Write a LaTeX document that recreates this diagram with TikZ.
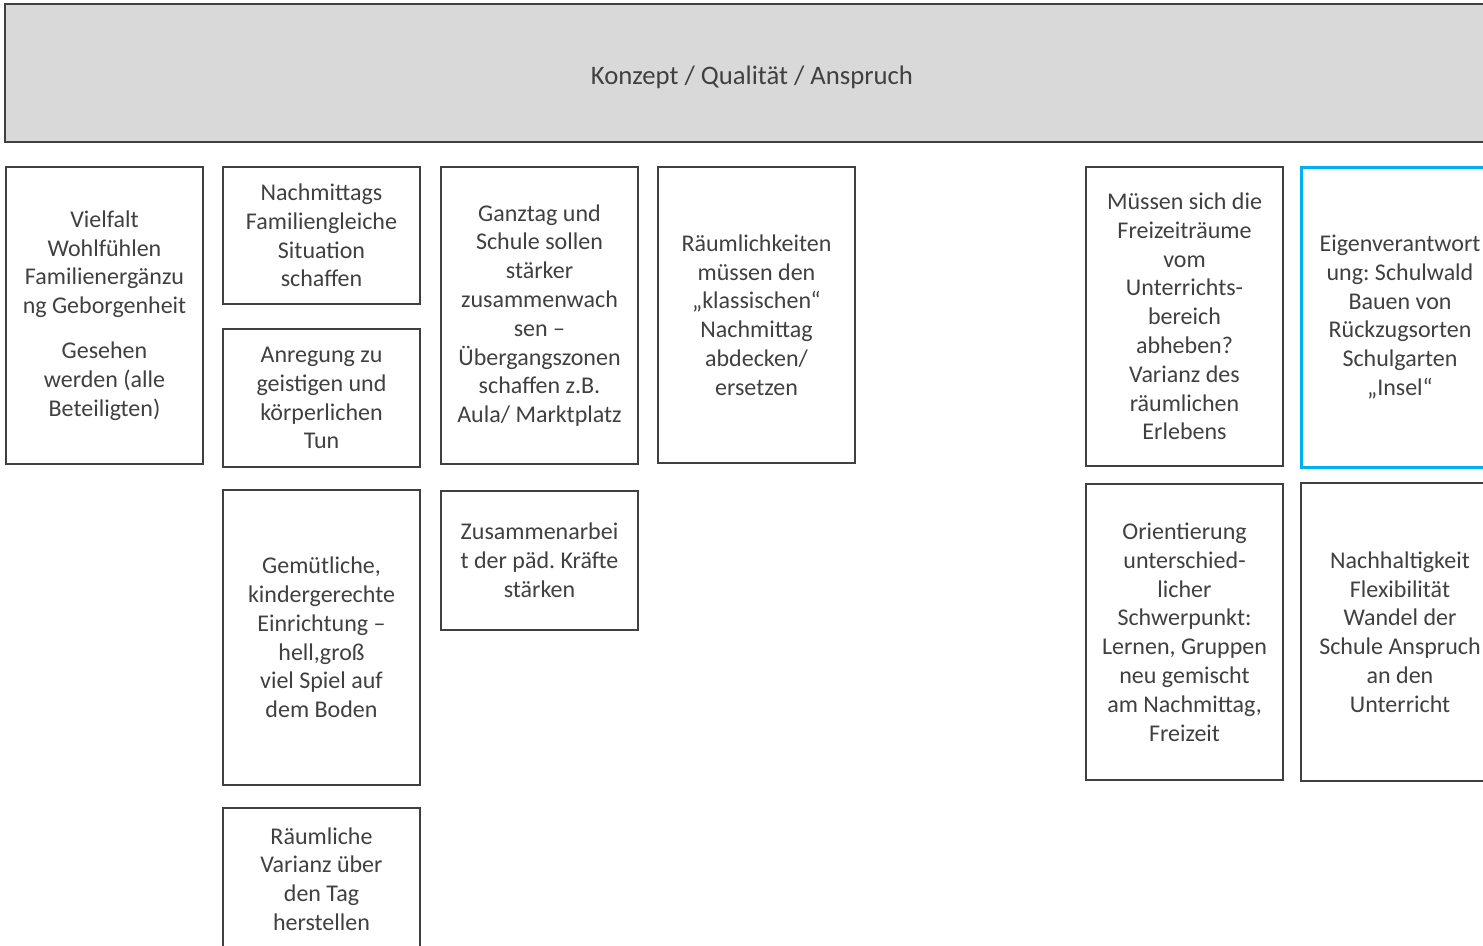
\documentclass[tikz,border=0pt]{standalone}
\usepackage{fontspec}
\setmainfont{Carlito}
\frenchspacing
\definecolor{txt}{HTML}{404040}
\definecolor{edge}{HTML}{404040}
\definecolor{hdr}{HTML}{D9D9D9}
\definecolor{blu}{HTML}{00B0F0}
\tikzset{
  card/.style={draw=edge, line width=2.3pt, fill=white, inner sep=0pt, align=center, text=txt,
    font=\fontsize{24}{28.8}\selectfont},
  header/.style={card, fill=hdr, font=\fontsize{26.7}{32}\selectfont},
}
\newcommand\mycard[7][]{%
  \node[card,#1, minimum width={(#4-#3)*1pt}, minimum height={(#6-#5)*1pt}]
    (#2) at ({(#3+#4)/2},{(#5+#6)/2}) {#7};}
\begin{document}
\begin{tikzpicture}[x=1pt,y=-1pt]
\useasboundingbox (0,0) rectangle (1483,945);
\mycard[header]{head}{5}{1499}{4}{142}{\raisebox{-4pt}[\height][\depth]{Konzept / Qualität / Anspruch}}
% column 1
\mycard{vielfalt}{6}{203}{167}{464}{Vielfalt\\Wohlfühlen\\Familienergänzu\\ng Geborgenheit\\[16pt]Gesehen\\werden (alle\\Beteiligten)}
% column 2
\mycard{nachm}{223}{420}{167}{304}{Nachmittags\\Familiengleiche\\Situation\\schaffen}
\mycard{anreg}{223}{420}{329}{467}{Anregung zu\\geistigen und\\körperlichen\\Tun}
\mycard{gemuet}{223}{420}{490}{785}{Gemütliche,\\kindergerechte\\Einrichtung –\\hell,groß\\viel Spiel auf\\dem Boden}
\mycard{raeuml}{223}{420}{808}{950}{Räumliche\\Varianz über\\den Tag\\herstellen}
% column 3
\mycard{ganztag}{441}{638}{167}{464}{Ganztag und\\Schule sollen\\stärker\\zusammenwach\\sen –\\Übergangszonen\\schaffen z.B.\\Aula/ Marktplatz}
\mycard{zusam}{441}{638}{491}{630}{Zusammenarbei\\t der päd. Kräfte\\stärken}
% column 4
\mycard{raeumk}{658}{855}{167}{463}{Räumlichkeiten\\müssen den\\„klassischen“\\Nachmittag\\abdecken/\\ersetzen}
% column 5
\mycard{muessen}{1086}{1283}{167}{466}{Müssen sich die\\Freizeiträume\\vom\\Unterrichts-\\bereich\\abheben?\\Varianz des\\räumlichen\\Erlebens}
\mycard{orient}{1086}{1283}{484}{780}{Orientierung\\unterschied-\\licher\\Schwerpunkt:\\Lernen, Gruppen\\neu gemischt\\am Nachmittag,\\Freizeit}
% column 6
\mycard[draw=blu, line width=3pt]{eigen}{1301}{1499}{167}{467}{Eigenverantwort\\ung: Schulwald\\Bauen von\\Rückzugsorten\\Schulgarten\\„Insel“}
\mycard{nachh}{1301}{1499}{483}{781}{Nachhaltigkeit\\Flexibilität\\Wandel der\\Schule Anspruch\\an den\\Unterricht}
\end{tikzpicture}
\end{document}
